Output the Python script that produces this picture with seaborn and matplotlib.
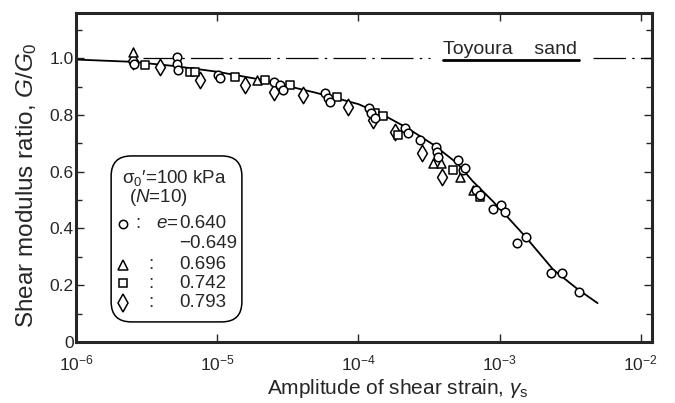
import numpy as np
import pandas as pd
import matplotlib
matplotlib.use("Agg")
import matplotlib.pyplot as plt
import seaborn as sns
from matplotlib.patches import FancyBboxPatch
from matplotlib.ticker import MultipleLocator, FixedLocator, NullLocator

# pontos (deformacao, G/G0)
circ_x = [2.58e-6, 5.2e-6, 5.2e-6, 5.29e-6, 1.02e-5, 1.05e-5, 2.54e-5, 2.80e-5, 2.94e-5,
          5.83e-5, 6.12e-5, 6.33e-5, 1.18e-4, 1.22e-4, 1.32e-4, 2.15e-4, 2.26e-4, 2.75e-4,
          3.52e-4, 3.63e-4, 3.69e-4, 5.04e-4, 5.47e-4, 5.74e-4, 6.76e-4, 7.33e-4, 8.92e-4,
          1.02e-3, 1.10e-3, 1.34e-3, 1.53e-3, 2.30e-3, 2.75e-3, 3.63e-3]
circ_y = [0.979, 1.004, 0.979, 0.958, 0.940, 0.930, 0.915, 0.905, 0.887,
          0.877, 0.859, 0.845, 0.824, 0.806, 0.789, 0.754, 0.736, 0.711,
          0.687, 0.669, 0.651, 0.641, 0.606, 0.613, 0.535, 0.518, 0.468,
          0.482, 0.458, 0.349, 0.370, 0.243, 0.243, 0.176]

tri_x = [2.54e-6, 1.92e-5, 3.40e-4, 3.82e-4, 5.29e-4, 6.54e-4]
tri_y = [1.022, 0.923, 0.630, 0.630, 0.581, 0.535]

sq_x = [3.09e-6, 6.43e-6, 6.98e-6, 1.34e-5, 2.19e-5, 3.29e-5, 7.10e-5, 1.32e-4, 1.50e-4,
        1.92e-4, 4.72e-4, 7.33e-4]
sq_y = [0.975, 0.951, 0.951, 0.933, 0.923, 0.905, 0.863, 0.806, 0.796,
        0.729, 0.606, 0.511]

dia_x = [2.54e-6, 3.94e-6, 7.57e-6, 1.58e-5, 2.54e-5, 4.07e-5, 8.49e-5, 1.28e-4, 1.83e-4,
         2.84e-4, 3.94e-4]
dia_y = [0.99, 0.970, 0.923, 0.905, 0.880, 0.870, 0.827, 0.782, 0.739,
         0.665, 0.581]

# curva ajustada
curva_x = [1e-6, 2.5e-6, 5e-6, 1e-5, 2e-5, 5e-5, 1e-4, 1.5e-4, 2.2e-4, 3.4e-4, 5e-4,
           6.5e-4, 9e-4, 1.07e-3, 1.5e-3, 2.4e-3, 3.6e-3, 4.95e-3]
curva_y = [0.995, 0.987, 0.972, 0.952, 0.925, 0.878, 0.838, 0.800, 0.755, 0.695, 0.630,
           0.565, 0.495, 0.455, 0.375, 0.255, 0.185, 0.137]

legenda_e = ["0.640", "\u22120.649", "0.696", "0.742", "0.793"]

sns.set_style("ticks")
plt.rcParams['font.family'] = ['Liberation Sans', 'DejaVu Sans']
plt.rcParams['mathtext.fontset'] = 'custom'
plt.rcParams['mathtext.rm'] = 'Liberation Sans'
plt.rcParams['mathtext.it'] = 'Liberation Sans:italic'

fig = plt.figure(figsize=(6.75, 4.03), dpi=100)
ax = fig.add_axes([76/675, 1-342/403, 576/675, 329.3/403])

# linha de referencia G/G0 = 1
ax.plot([3.0e-6, 3.24e-4], [1.0, 1.0], color='black', lw=0.9, dashes=(26, 5, 2, 5))
ax.plot([4.6e-3, 1.3e-2], [1.0, 1.0], color='black', lw=0.9, dashes=(26, 5, 2, 5))
ax.plot([4.0e-4, 3.63e-3], [0.993, 0.993], color='black', lw=2.0)
ax.text(4.0e-4, 1.03, "Toyoura    sand", fontsize=14, ha='left', va='center')

sns.lineplot(x=curva_x, y=curva_y, ax=ax, color='black', lw=1.3)

kw = dict(color='white', edgecolor='black', linewidth=1.1, ax=ax, zorder=3)
sns.scatterplot(x=dia_x, y=dia_y, marker='d', s=70, **kw)
sns.scatterplot(x=sq_x, y=sq_y, marker='s', s=32, **kw)
sns.scatterplot(x=tri_x, y=tri_y, marker='^', s=42, **kw)
sns.scatterplot(x=circ_x, y=circ_y, marker='o', s=38, **kw)

ax.set_xscale('log')
ax.set_xlim(1e-6, 10**-1.92)
ax.set_ylim(0, 1.16)
ax.xaxis.set_major_locator(FixedLocator([1e-6, 1e-5, 1e-4, 1e-3, 1e-2]))
ax.xaxis.set_minor_locator(NullLocator())
ax.set_xticks([1e-6, 1e-5, 1e-4, 1e-3, 1e-2])
ax.set_xticklabels([r'$10^{-6}$', r'$10^{-5}$', r'$10^{-4}$', r'$10^{-3}$', r'$10^{-2}$'])
ax.set_yticks([0, 0.2, 0.4, 0.6, 0.8, 1.0])
ax.set_yticklabels(['0', '0.2', '0.4', '0.6', '0.8', '1.0'])
ax.yaxis.set_minor_locator(MultipleLocator(0.1))
ax.tick_params(which='both', direction='in', top=True, right=True, width=1.0, labelsize=12.5)
ax.tick_params(which='major', length=6)
ax.tick_params(which='minor', length=4)
ax.tick_params(axis='y', pad=1.5)
ax.tick_params(axis='x', pad=8)
for s in ax.spines.values():
    s.set_linewidth(2.2)

ax.set_xlabel(r'Amplitude of shear strain, $\gamma_{\rm s}$', fontsize=15)
ax.xaxis.set_label_coords(0.559, -0.105)
ax.set_ylabel(r'Shear modulus ratio, $G/G_0$', fontsize=17.5)
ax.yaxis.set_label_coords(-0.064, 0.475)

# caixa de legenda
caixa = FancyBboxPatch((0.061, 0.061), 0.227, 0.504, transform=ax.transAxes,
                       boxstyle="round,pad=0,rounding_size=0.035", fc='white', ec='black',
                       lw=1.1, zorder=4, mutation_aspect=576/329)
ax.add_patch(caixa)
fs = 13.5
ax.text(0.080, 0.498, "\u03c3$_0$\u2032=100 kPa", transform=ax.transAxes, fontsize=fs,
        va='center', zorder=5)
ax.text(0.092, 0.438, r"($N$=10)", transform=ax.transAxes, fontsize=fs, va='center', zorder=5)
linhas_y = [0.359, 0.298, 0.234, 0.179, 0.119]
marc = ['o', None, '^', 's', 'd']
tam = [6, 0, 7, 6, 9]
for i, txt in enumerate(legenda_e):
    yy = linhas_y[i]
    ax.text(0.179, yy, txt, transform=ax.transAxes, fontsize=fs, va='center', zorder=5)
    if marc[i] is None:
        continue
    ax.plot([0.082], [yy], transform=ax.transAxes, marker=marc[i], ms=tam[i],
            mfc='white', mec='black', mew=1.1, ls='none', zorder=5, clip_on=False)
    if i == 0:
        ax.text(0.103, yy, ":", transform=ax.transAxes, fontsize=fs, va='center', zorder=5)
        ax.text(0.178, yy, r"$e$=", transform=ax.transAxes, fontsize=fs, va='center',
                ha='right', zorder=5)
    else:
        ax.text(0.125, yy, ":", transform=ax.transAxes, fontsize=fs, va='center', zorder=5)

fig.savefig("out.png", dpi=100)
